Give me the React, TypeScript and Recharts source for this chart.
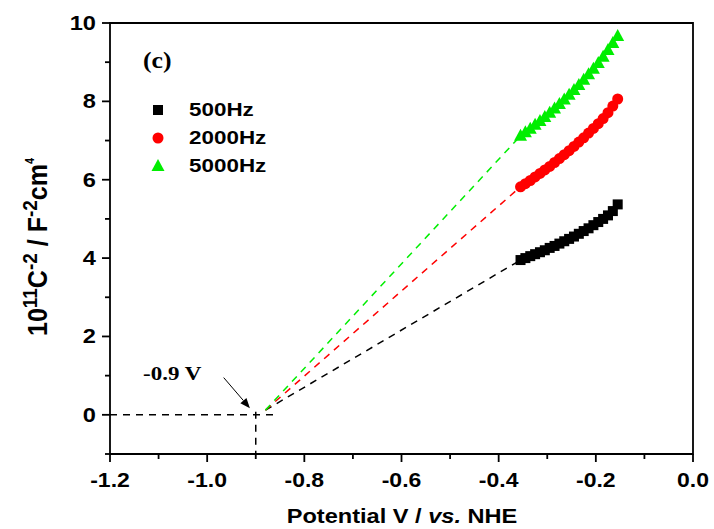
import React from "react";
import { ScatterChart, Scatter, XAxis, YAxis, ReferenceLine, ReferenceArea, Legend } from "recharts";

// Mott-Schottky data, potential in V vs. NHE, C^-2 in 1e11 F^-2 cm^4
const potential = [
  -0.355, -0.345, -0.335, -0.325, -0.315, -0.305, -0.295, -0.285, -0.275, -0.265, -0.255,
  -0.245, -0.235, -0.225, -0.215, -0.205, -0.195, -0.185, -0.175, -0.165, -0.155,
];
const c500 = [3.95, 4.0, 4.05, 4.1, 4.15, 4.2, 4.26, 4.31, 4.37, 4.43, 4.49, 4.55, 4.62, 4.69, 4.76, 4.84, 4.92, 5.0, 5.09, 5.2, 5.37];
const c2000 = [5.82, 5.9, 5.98, 6.07, 6.16, 6.25, 6.34, 6.44, 6.54, 6.64, 6.74, 6.85, 6.96, 7.07, 7.19, 7.31, 7.43, 7.56, 7.71, 7.88, 8.06];
const c5000 = [7.12, 7.21, 7.3, 7.4, 7.5, 7.6, 7.71, 7.82, 7.93, 8.05, 8.17, 8.29, 8.42, 8.55, 8.69, 8.83, 8.98, 9.14, 9.31, 9.49, 9.67];

const seriesNames = ["500Hz", "2000Hz", "5000Hz"];
const seriesColors = ["#000000", "#ff0000", "#00ee00"];

const xTicks = [-1.2, -1.1, -1.0, -0.9, -0.8, -0.7, -0.6, -0.5, -0.4, -0.3, -0.2, -0.1, 0.0];
const xMajor = [-1.2, -1.0, -0.8, -0.6, -0.4, -0.2, 0.0];
const yTicks = [-1, 0, 1, 2, 3, 4, 5, 6, 7, 8, 9, 10];
const yMajor = [0, 2, 4, 6, 8, 10];

// flat-band potential and where the extrapolated fits meet the axis
const flatBand = -0.9;
const fitOrigin = { x: -0.88, y: 0.12 };
const baselineEnd = -0.855;
const arrowFrom = { x: -0.966, y: 0.95 };
const arrowTo = { x: -0.912, y: 0.17 };

const SANS = "'Liberation Sans', Arial, sans-serif";
const SERIF = "'Liberation Serif', 'Times New Roman', serif";
const SX = 1.18;

const toPoints = (ys: number[]) => potential.map((x, i) => ({ x, y: ys[i] }));

const isMajor = (list: number[], v: number) => list.some((m) => Math.abs(m - v) < 1e-6);

const XTick = ({ x, y, payload }: any) => {
  const major = isMajor(xMajor, payload.value);
  return (
    <g>
      <line x1={x} x2={x} y1={y} y2={y + (major ? 8 : 5)} stroke="#000" strokeWidth={1.8} />
      {major && (
        <text
          transform={`translate(${x},${y + 33}) scale(${SX},1)`}
          textAnchor="middle"
          fontFamily={SANS}
          fontWeight="bold"
          fontSize={19.5}
          fill="#000"
        >
          {payload.value.toFixed(1)}
        </text>
      )}
    </g>
  );
};

const YTick = ({ x, y, payload }: any) => {
  const major = isMajor(yMajor, payload.value);
  return (
    <g>
      <line x1={x} x2={x - (major ? 8 : 5)} y1={y} y2={y} stroke="#000" strokeWidth={1.8} />
      {major && (
        <text
          transform={`translate(${x - 14},${y + 7}) scale(${SX},1)`}
          textAnchor="end"
          fontFamily={SANS}
          fontWeight="bold"
          fontSize={20}
          fill="#000"
        >
          {payload.value}
        </text>
      )}
    </g>
  );
};

const Marker = ({ kind, cx, cy, color }: { kind: number; cx: number; cy: number; color: string }) => {
  if (kind === 0) return <rect x={cx - 5} y={cy - 5} width={10} height={10} fill={color} />;
  if (kind === 1) return <circle cx={cx} cy={cy} r={5.5} fill={color} />;
  return <polygon points={`${cx},${cy - 7} ${cx + 6.5},${cy + 5} ${cx - 6.5},${cy + 5}`} fill={color} />;
};

const shapeFor = (kind: number) => (props: any) =>
  <Marker kind={kind} cx={props.cx} cy={props.cy} color={seriesColors[kind]} />;

const LegendBox = () => (
  <div style={{ fontFamily: SANS, fontWeight: "bold", fontSize: 19 }}>
    {seriesNames.map((name, i) => (
      <div key={name} style={{ display: "flex", alignItems: "center", height: 28 }}>
        <svg width={16} height={16} style={{ marginRight: 23 }}>
          <Marker kind={i} cx={8} cy={8} color={seriesColors[i]} />
        </svg>
        <span style={{ display: "inline-block", transform: `scaleX(${SX})`, transformOrigin: "left center" }}>
          {name}
        </span>
      </div>
    ))}
  </div>
);

const Arrow = (props: any) => {
  const { x1, y1, x2, y2 } = props;
  const a = Math.atan2(y2 - y1, x2 - x1);
  const L = 10;
  const w = 4;
  const bx = x2 - L * Math.cos(a);
  const by = y2 - L * Math.sin(a);
  const px = -Math.sin(a) * w;
  const py = Math.cos(a) * w;
  return (
    <g>
      <line x1={x1} y1={y1} x2={bx} y2={by} stroke="#000" strokeWidth={1} />
      <polygon points={`${x2},${y2} ${bx + px},${by + py} ${bx - px},${by - py}`} fill="#000" />
    </g>
  );
};

const series = [c500, c2000, c5000];

export default function App() {
  return (
    <div style={{ position: "absolute", left: 0, top: 0, width: 714, height: 529, background: "#fff" }}>
      <ScatterChart width={714} height={529} margin={{ top: 23, right: 21, bottom: 0, left: 0 }}>
        <XAxis
          type="number"
          dataKey="x"
          domain={[-1.2, 0]}
          ticks={xTicks}
          interval={0}
          allowDataOverflow
          height={75}
          axisLine={false}
          tickLine={false}
          tickSize={0}
          tickMargin={0}
          tick={<XTick />}
        />
        <YAxis
          type="number"
          dataKey="y"
          domain={[-1, 10]}
          ticks={yTicks}
          interval={0}
          allowDataOverflow
          width={110}
          axisLine={false}
          tickLine={false}
          tickSize={0}
          tickMargin={0}
          tick={<YTick />}
        />
        <ReferenceArea x1={-1.2} x2={0} y1={-1} y2={10} fill="none" stroke="#000" strokeWidth={1.8} />
        <ReferenceLine
          segment={[{ x: -1.2, y: 0 }, { x: baselineEnd, y: 0 }]}
          stroke="#000"
          strokeWidth={1.5}
          strokeDasharray="7 6"
        />
        <ReferenceLine
          segment={[{ x: flatBand, y: 0.08 }, { x: flatBand, y: -1 }]}
          stroke="#000"
          strokeWidth={1.5}
          strokeDasharray="7 6"
        />
        {series.map((ys, i) => (
          <ReferenceLine
            key={"fit" + i}
            segment={[fitOrigin, { x: potential[0], y: ys[0] }]}
            stroke={seriesColors[i]}
            strokeWidth={1.5}
            strokeDasharray="7 6"
          />
        ))}
        <ReferenceLine segment={[arrowFrom, arrowTo]} shape={<Arrow />} />
        {series.map((ys, i) => (
          <Scatter
            key={seriesNames[i]}
            name={seriesNames[i]}
            data={toPoints(ys)}
            fill={seriesColors[i]}
            shape={shapeFor(i)}
            isAnimationActive={false}
          />
        ))}
        <Legend
          layout="vertical"
          align="center"
          verticalAlign="middle"
          wrapperStyle={{ left: 150, top: 96, width: 150 }}
          content={() => <LegendBox />}
        />
        <text
          transform={`translate(143,68) scale(1.12,1)`}
          fontFamily={SERIF}
          fontWeight="bold"
          fontSize={23}
          fill="#000"
        >
          (c)
        </text>
        <text
          transform={`translate(143,380) scale(${SX},1)`}
          fontFamily={SERIF}
          fontWeight="bold"
          fontSize={19.5}
          fill="#000"
        >
          -0.9 V
        </text>
        <text
          transform={`translate(47,247) scale(1.1,1) rotate(-90)`}
          textAnchor="middle"
          fontFamily={SANS}
          fontWeight="bold"
          fontSize={25}
          fill="#000"
        >
          10
          <tspan fontSize={19} dy={-9}>11</tspan>
          <tspan dy={9}>C</tspan>
          <tspan fontSize={19} dy={-9}>-2</tspan>
          <tspan dy={9}> / F</tspan>
          <tspan fontSize={19} dy={-9}>-2</tspan>
          <tspan dy={9}>cm</tspan>
          <tspan fontSize={11} dy={-12}>4</tspan>
        </text>
        <text
          transform={`translate(402,523) scale(${SX},1)`}
          textAnchor="middle"
          fontFamily={SANS}
          fontWeight="bold"
          fontSize={20}
          fill="#000"
        >
          Potential V / <tspan fontStyle="italic">vs.</tspan> NHE
        </text>
      </ScatterChart>
    </div>
  );
}
